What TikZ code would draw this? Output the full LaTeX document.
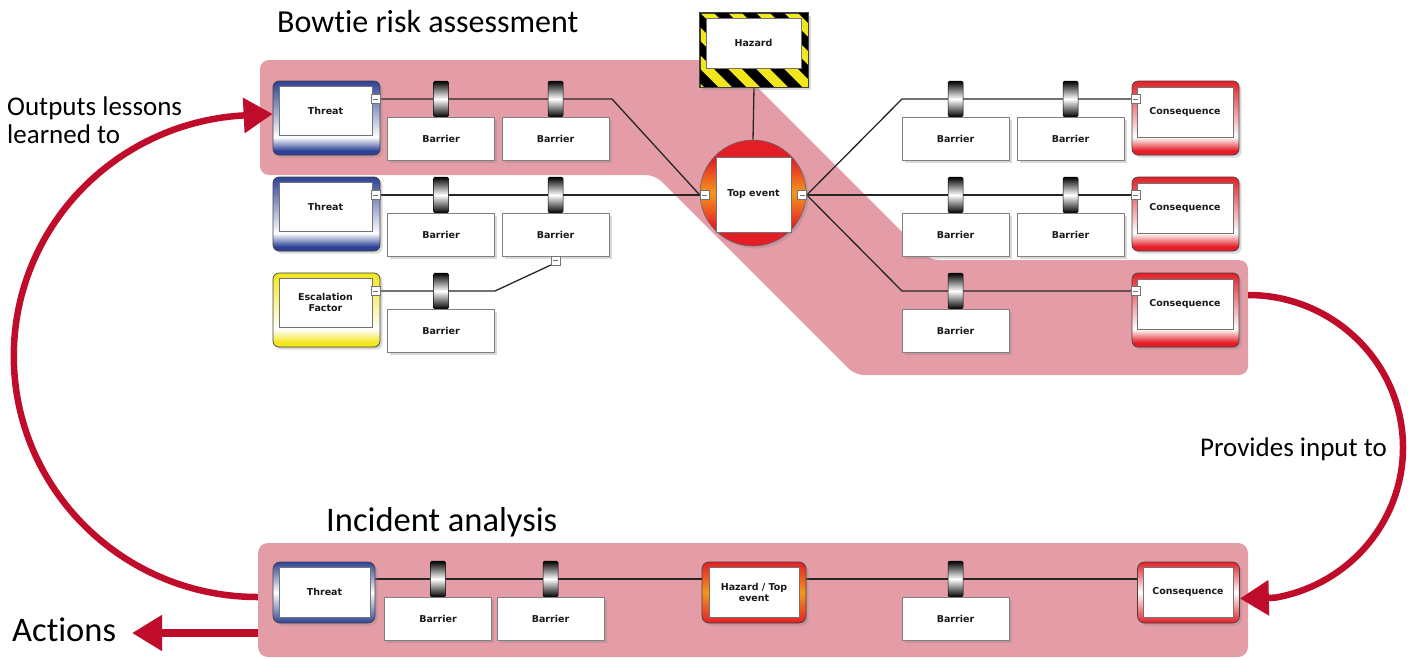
\documentclass[tikz,border=0pt]{standalone}
\usepackage{fontspec}
\setmainfont{Carlito}[Ligatures=NoCommon]
\newfontfamily\boxfont{DejaVu Sans}
\usetikzlibrary{arrows.meta,shadows}

\definecolor{bandpink}{RGB}{228,157,167}
\definecolor{loopred}{RGB}{190,12,42}
\definecolor{thrblue}{RGB}{45,66,150}
\definecolor{conred}{RGB}{228,30,38}
\definecolor{escyellow}{RGB}{242,230,28}
\definecolor{tevorange}{RGB}{244,152,28}

\pgfdeclareverticalshading{thrshade}{100bp}{color(0bp)=(thrblue); color(28bp)=(thrblue); color(37bp)=(white); color(75bp)=(thrblue); color(100bp)=(thrblue)}
\pgfdeclareverticalshading{conshade}{100bp}{color(0bp)=(conred); color(28bp)=(conred); color(37bp)=(white); color(75bp)=(conred); color(100bp)=(conred)}
\pgfdeclareverticalshading{escshade}{100bp}{color(0bp)=(escyellow); color(28bp)=(escyellow); color(37bp)=(white); color(75bp)=(escyellow); color(100bp)=(escyellow)}
\pgfdeclareverticalshading{tevshade}{100bp}{color(0bp)=(conred); color(34bp)=(conred); color(50bp)=(tevorange); color(66bp)=(conred); color(100bp)=(conred)}

\pgfdeclarelayer{band}
\pgfdeclarelayer{wires}
\pgfsetlayers{band,wires,main}

\tikzset{
  lbl/.style={font=\boxfont\bfseries\fontsize{9.5}{11}\selectfont, text=black!90, align=center, inner sep=0pt},
  boxshadow/.style={drop shadow={shadow xshift=2.5pt, shadow yshift=-2.5pt, opacity=.3}},
  barrierbox/.style={lbl, draw=black!50, fill=white, line width=.6, minimum width=107, minimum height=43, boxshadow},
  innerbox/.style={lbl, draw=black!55, fill=white, line width=.6},
  barriertab/.style={draw=black, line width=.5, rounded corners=1.5, minimum width=15, minimum height=36, inner sep=0pt, top color=black, bottom color=black, middle color=white},
  minusbox/.style={draw=black!55, fill=white, line width=.5, minimum size=9, inner sep=0pt,
    path picture={\draw[line width=.7] ([xshift=-2.5pt]path picture bounding box.center) -- ([xshift=2.5pt]path picture bounding box.center);}},
  shapebox/.style={draw=black!75, line width=.7, rounded corners=6, minimum width=107, minimum height=74, inner sep=0pt, boxshadow},
  ringbox/.style={draw=black!75, line width=.7, rounded corners=7, minimum width=102, minimum height=61, inner sep=0pt, boxshadow},
  wire/.style={line width=1.3, black!85},
  feedback/.style={line width=6.5, loopred, -{Triangle[length=29pt,width=34pt]}},
  bigtext/.style={anchor=base west, inner sep=0pt, text=black}
}

\begin{document}
\begin{tikzpicture}[x=1pt,y=-1pt]
  \useasboundingbox (0,0) rectangle (1413,659);

  \node[bigtext, font=\fontsize{32}{38}\selectfont] (bowtitle) at (277,32) {Bowtie risk assessment};
  \node[bigtext, font=\fontsize{34.5}{40}\selectfont] (inctitle) at (326,531) {Incident analysis};
  \node[bigtext, font=\fontsize{27}{32}\selectfont] (outa) at (7,115) {Outputs lessons};
  \node[bigtext, font=\fontsize{27}{32}\selectfont] (outb) at (7,143) {learned to};
  \node[bigtext, font=\fontsize{27}{32}\selectfont] (provides) at (1200,456) {Provides input to};
  \node[bigtext, font=\fontsize{34.5}{40}\selectfont] (acts) at (12,641) {Actions};

  % bowtie
  \node[shapebox, rounded corners=0, fill=escyellow, minimum width=108] (hz) at (754,50) {};
  \begin{scope}
    \clip (hz.south west) rectangle (hz.north east);
    \foreach \s in {0,...,7}
      \fill[black] (630+\s*28,13) -- ++(14,0) -- ++(74,74) -- ++(-14,0) -- cycle;
  \end{scope}
  \draw[black!75, line width=.7] (hz.south west) rectangle (hz.north east);
  \node[innerbox, minimum width=95, minimum height=50] (hzt) at (753.5,43) {Hazard};

  \node[circle, draw=black!60, line width=.6, minimum size=106, inner sep=0pt,
    shading=tevshade, boxshadow] (tev) at (753,193) {};
  \node[innerbox, minimum width=75, minimum height=75] (tevt) at (753.5,194.5) {Top event};
  \node[minusbox] (tevl) at (704.5,195) {};
  \node[minusbox] (tevr) at (802,195) {};

  \foreach \k/\y in {1/0,2/96} {
    \node[shapebox, shading=thrshade] (thr\k) at (326.5,118+\y) {};
    \node[innerbox, minimum width=93, minimum height=49] (thrt\k) at (325.5,110.5+\y) {Threat};
    \node[minusbox] (thrm\k) at (375.5,99+\y) {};
  }
  \node[shapebox, shading=escshade] (esc) at (326.5,310) {};
  \node[innerbox, minimum width=93, minimum height=49] (esct) at (325.5,302.5) {Escalation\\Factor};
  \node[minusbox] (escm) at (375.5,291) {};

  \foreach \k/\y in {1/0,2/96,3/192} {
    \node[shapebox, shading=conshade] (con\k) at (1185.5,118+\y) {};
    \node[innerbox, minimum width=96, minimum height=50] (cont\k) at (1185,112+\y) {Consequence};
    \node[minusbox] (conm\k) at (1135.5,99+\y) {};
  }

  \foreach \n/\x/\y in {11/441/0, 12/555.5/0, 21/441/96, 22/555.5/96, 31/441/192,
      41/955.5/0, 42/1070.5/0, 51/955.5/96, 52/1070.5/96, 61/955.5/192} {
    \node[barriertab] (tab\n) at (\x,99+\y) {};
    \node[barrierbox] (bar\n) at (\x,138.5+\y) {Barrier};
  }
  \node[minusbox] (bar22m) at ([yshift=-4pt]bar22.south) {};

  % incident analysis
  \node[ringbox, top color=thrblue, bottom color=thrblue, middle color=white] (thrb) at (324,592.5) {};
  \node[innerbox, minimum width=91, minimum height=50] (thrbt) at (324.5,592) {Threat};
  \node[ringbox, top color=conred, bottom color=conred, middle color=tevorange, minimum width=104] (htb) at (754,592.5) {};
  \node[innerbox, minimum width=90, minimum height=50] (htbt) at (754,592) {Hazard / Top\\event};
  \node[ringbox, top color=conred, bottom color=conred, middle color=white] (conb) at (1188.5,592.5) {};
  \node[innerbox, minimum width=90, minimum height=50] (conbt) at (1188,592) {Consequence};
  \foreach \n/\x in {1/438, 2/550.5, 3/955.5} {
    \node[barriertab] (tabb\n) at (\x,579) {};
    \node[barrierbox] (barb\n) at (\x,618.5) {Barrier};
  }

  \begin{pgfonlayer}{band}
    \fill[bandpink, rounded corners=9] (260,60) -- (730,60) -- (930,260) -- (1248,260)
      -- (1248,375) -- (855,375) -- (655,175) -- (260,175) -- cycle;
    \node[fill=bandpink, rounded corners=10, minimum width=990, minimum height=114, inner sep=0pt] (inc) at (753,600) {};
  \end{pgfonlayer}

  \begin{pgfonlayer}{wires}
    \draw[wire] (thrm1.east) -- (612,99) -- (tevl.west);
    \draw[wire] (thrm2.east) -- (tevl.west);
    \draw[wire] (escm.east) -- (495,291) -- (bar22m.south west);
    \draw[wire] (tevr.east) -- (902,99) -- (conm1.west);
    \draw[wire] (tevr.east) -- (conm2.west);
    \draw[wire] (tevr.east) -- (902,291) -- (conm3.west);
    \draw[wire] (hz.south) -- (tev.north);
    \draw[wire] (thrb.east |- tabb1) -- (htb.west |- tabb1);
    \draw[wire] (htb.east |- tabb3) -- (conb.west |- tabb3);
  \end{pgfonlayer}

  \coordinate (bowout) at (1248,295);
  \coordinate (actend) at (132,633);
  \draw[feedback] ([yshift=3pt]inc.west) arc[start angle=90, end angle=266, x radius=244, y radius=241] -- ([yshift=4pt]thr1.west);
  \draw[feedback] (bowout) arc[start angle=270, end angle=440, x radius=155, y radius=152.5] -- ([yshift=-6pt]conb.east);
  \draw[feedback, line width=8, -{Triangle[length=30pt,width=34pt]}] ([yshift=-33pt]inc.west) -- (actend);
\end{tikzpicture}
\end{document}
